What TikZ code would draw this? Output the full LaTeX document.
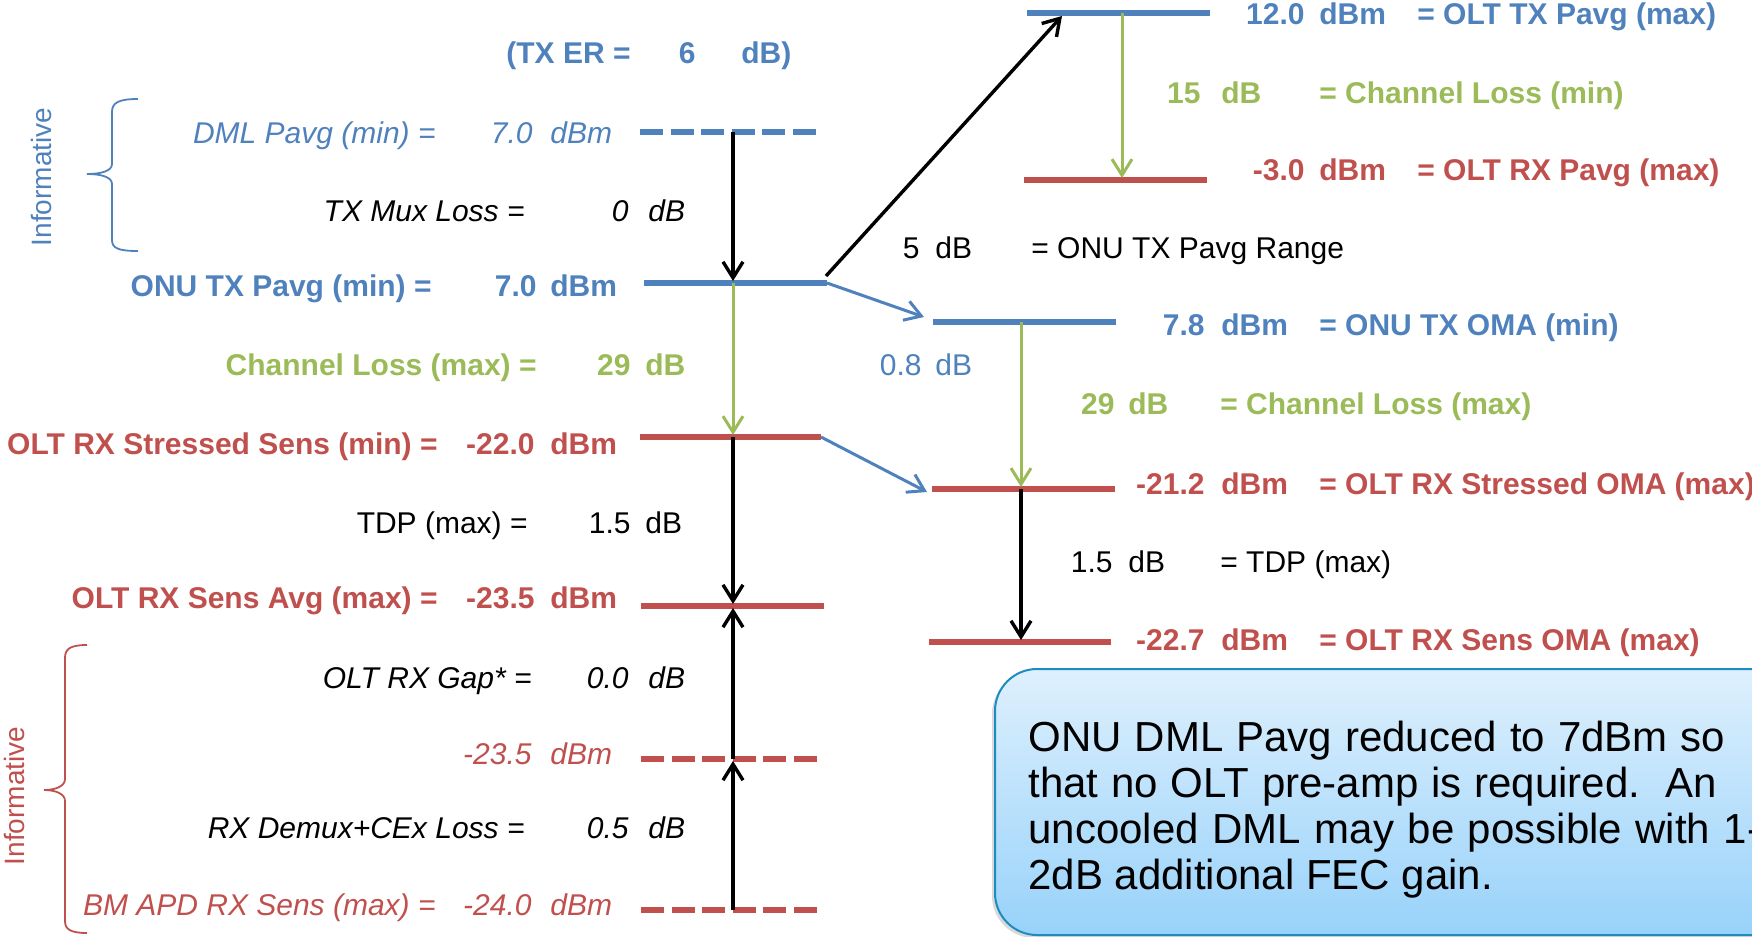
\documentclass[tikz,border=0pt]{standalone}
\usepackage{fontspec}
\setmainfont{Liberation Sans}
\usetikzlibrary{arrows.meta,shadows}

\definecolor{lvblue}{RGB}{79,129,189}
\definecolor{lvred}{RGB}{192,80,77}
\definecolor{lvgreen}{RGB}{155,187,89}
\definecolor{notetop}{RGB}{222,240,253}
\definecolor{notebot}{RGB}{152,210,250}
\definecolor{noteedge}{RGB}{30,140,190}

\tikzset{
  fs/.style={font=\fontsize{15pt}{18pt}\selectfont},
  fb/.style={font=\fontsize{15pt}{18pt}\selectfont\bfseries},
  fi/.style={font=\fontsize{15pt}{18pt}\selectfont\itshape},
  lab/.style={inner sep=0pt, anchor=base east},
  unit/.style={inner sep=0pt, anchor=base west},
  level/.style={line width=3.4pt},
  dashlevel/.style={line width=3.4pt, dash pattern=on 11.5pt off 3.75pt},
  barb/.style={-{Straight Barb[length=8pt,width=10pt]}},
  blk/.style={barb, line width=1.7pt, black, shorten >=1pt},
  grn/.style={barb, line width=1.5pt, lvgreen, shorten >=1pt},
  blu/.style={barb, line width=1.5pt, lvblue},
  brace/.style={line width=0.9pt},
  notebox/.style={draw=noteedge, line width=1pt, rounded corners=21pt,
    top color=notetop, bottom color=notebot,
    drop shadow={shadow xshift=-1.5pt, shadow yshift=-1.5pt, opacity=0.3},
    inner sep=0pt, anchor=north west},
  notetext/.style={inner sep=0pt, anchor=base west, font=\fontsize{21pt}{25pt}\selectfont},
  informative/.style={inner sep=0pt, rotate=90, font=\fontsize{14pt}{16pt}\selectfont},
}

\begin{document}
\begin{tikzpicture}[x=0.5pt, y=-0.5pt]
\useasboundingbox (0,0) rectangle (1752,937);

% ---------- note box ----------
\node[notebox, minimum width=420pt, minimum height=133pt] (note) at (994,668) {};
\node[notetext] (n1) at (1028,751) {\makebox[348.5pt][s]{ONU DML Pavg reduced to 7dBm so}};
\node[notetext] (n2) at (1028,797) {\makebox[344.5pt][s]{that no OLT pre-amp is required.\ \ An}};
\node[notetext] (n3) at (1028,843) {\makebox[366.5pt][s]{uncooled DML may be possible with 1-}};
\node[notetext] (n4) at (1028,889) {2dB additional FEC gain.};

% ---------- level coordinates, left column ----------
\coordinate (dml-w) at (640,132); \coordinate (dml-e) at (821,132); \coordinate (dml) at (733,132);
\coordinate (onu-w) at (644,283); \coordinate (onu-e) at (827,283); \coordinate (onu) at (733,283);
\coordinate (str-w) at (640,437); \coordinate (str-e) at (821,437); \coordinate (str) at (733,437);
\coordinate (avg-w) at (641,606); \coordinate (avg-e) at (824,606); \coordinate (avg) at (733,606);
\coordinate (gap-w) at (641,759); \coordinate (gap-e) at (821,759); \coordinate (gap) at (733,759);
\coordinate (apd-w) at (641,910); \coordinate (apd-e) at (821,910); \coordinate (apd) at (733,910);

% ---------- level coordinates, right column ----------
\coordinate (otx-w) at (1027,13);  \coordinate (otx-e) at (1210,13);  \coordinate (otx) at (1122,13);
\coordinate (orx-w) at (1024,180); \coordinate (orx-e) at (1207,180); \coordinate (orx) at (1122,180);
\coordinate (oma-w) at (933,322);  \coordinate (oma-e) at (1116,322); \coordinate (oma) at (1021,322);
\coordinate (soma-w) at (932,489); \coordinate (soma-e) at (1115,489); \coordinate (soma) at (1021,489);
\coordinate (sens-w) at (929,642); \coordinate (sens-e) at (1111,642); \coordinate (sens) at (1021,642);

% ---------- level lines ----------
\draw[dashlevel, lvblue] (dml-w) -- (dml-e);
\draw[level, lvblue] (onu-w) -- (onu-e);
\draw[level, lvred] (str-w) -- (str-e);
\draw[level, lvred] (avg-w) -- (avg-e);
\draw[dashlevel, lvred] (gap-w) -- (gap-e);
\draw[dashlevel, lvred] (apd-w) -- (apd-e);
\draw[level, lvblue] (otx-w) -- (otx-e);
\draw[level, lvred] (orx-w) -- (orx-e);
\draw[level, lvblue] (oma-w) -- (oma-e);
\draw[level, lvred] (soma-w) -- (soma-e);
\draw[level, lvred] (sens-w) -- (sens-e);

% ---------- vertical budget arrows ----------
\draw[blk] (dml) -- (onu);
\draw[grn] (onu) -- (str);
\draw[blk] (str) -- (avg);
\draw[blk] (gap) -- (avg);
\draw[blk] (apd) -- (gap);
\draw[grn] (otx) -- (orx);
\draw[grn] (oma) -- (soma);
\draw[blk] (soma) -- (sens);

% ---------- cross-over arrows ----------
\coordinate (jump-s) at (826,276);
\coordinate (jump-t) at (1062,16);
\draw[blk, shorten >=0pt] (jump-s) -- (jump-t);
\coordinate (omaarr-s) at (827,283);
\coordinate (omaarr-t) at (924,317);
\draw[blu] (omaarr-s) -- (omaarr-t);
\coordinate (somaarr-t) at (927,492);
\draw[blu] (str-e) -- (somaarr-t);

% ---------- braces ----------
\draw[brace, lvblue] (138,99) .. controls (118,99) and (112,103) .. (112,112)
  -- (112,164) .. controls (112,171) and (101,174) .. (87,174)
  .. controls (101,174) and (112,177) .. (112,184)
  -- (112,240) .. controls (112,248) and (118,251) .. (138,251);
\node[informative, lvblue] (inf1) at (41,177) {Informative};

\draw[brace, lvred] (87,645) .. controls (70,645) and (65,649) .. (65,658)
  -- (65,779) .. controls (65,786) and (56,790) .. (44,790)
  .. controls (56,790) and (65,794) .. (65,801)
  -- (65,921) .. controls (65,929) and (70,933) .. (87,933);
\node[informative, lvred] (inf2) at (14,796) {Informative};

% ---------- left column labels ----------
\node[lab, fb, lvblue] (er1) at (631,63) {(TX ER =};
\node[lab, fb, lvblue] (er2) at (696,63) {6};
\node[unit, fb, lvblue] (er3) at (741,63) {dB)};

\node[lab, fi, lvblue] (l1a) at (436,143) {DML Pavg (min) =};
\node[lab, fi, lvblue] (l1b) at (533,143) {7.0};
\node[unit, fi, lvblue] (l1c) at (550,143) {dBm};

\node[lab, fi] (l2a) at (525,221) {TX Mux Loss =};
\node[lab, fi] (l2b) at (629,221) {0};
\node[unit, fi] (l2c) at (648,221) {dB};

\node[lab, fb, lvblue] (l3a) at (432,296) {ONU TX Pavg (min) =};
\node[lab, fb, lvblue] (l3b) at (537,296) {7.0};
\node[unit, fb, lvblue] (l3c) at (550,296) {dBm};

\node[lab, fb, lvgreen] (l4a) at (537,375) {Channel Loss (max) =};
\node[lab, fb, lvgreen] (l4b) at (631,375) {29};
\node[unit, fb, lvgreen] (l4c) at (645,375) {dB};

\node[lab, fb, lvred] (l5a) at (438,454) {OLT RX Stressed Sens (min) =};
\node[lab, fb, lvred] (l5b) at (535,454) {-22.0};
\node[unit, fb, lvred] (l5c) at (550,454) {dBm};

\node[lab, fs] (l6a) at (528,533) {TDP (max) =};
\node[lab, fs] (l6b) at (631,533) {1.5};
\node[unit, fs] (l6c) at (645,533) {dB};

\node[lab, fb, lvred] (l7a) at (438,608) {OLT RX Sens Avg (max) =};
\node[lab, fb, lvred] (l7b) at (535,608) {-23.5};
\node[unit, fb, lvred] (l7c) at (550,608) {dBm};

\node[lab, fi] (l8a) at (532,688) {OLT RX Gap* =};
\node[lab, fi] (l8b) at (629,688) {0.0};
\node[unit, fi] (l8c) at (648,688) {dB};

\node[lab, fi, lvred] (l9b) at (532,764) {-23.5};
\node[unit, fi, lvred] (l9c) at (550,764) {dBm};

\node[lab, fi] (l10a) at (525,838) {RX Demux+CEx Loss =};
\node[lab, fi] (l10b) at (629,838) {0.5};
\node[unit, fi] (l10c) at (648,838) {dB};

\node[lab, fi, lvred] (l11a) at (436,915) {BM APD RX Sens (max) =};
\node[lab, fi, lvred] (l11b) at (532,915) {-24.0};
\node[unit, fi, lvred] (l11c) at (550,915) {dBm};

% ---------- right column labels ----------
\node[lab, fb, lvblue] (r1b) at (1305,25) {12.0};
\node[unit, fb, lvblue] (r1c) at (1319,25) {dBm};
\node[unit, fb, lvblue] (r1d) at (1417,25) {= OLT TX Pavg (max)};

\node[lab, fb, lvgreen] (r2b) at (1201,103) {15};
\node[unit, fb, lvgreen] (r2c) at (1221,103) {dB};
\node[unit, fb, lvgreen] (r2d) at (1319,103) {= Channel Loss (min)};

\node[lab, fb, lvred] (r3b) at (1305,180) {-3.0};
\node[unit, fb, lvred] (r3c) at (1319,180) {dBm};
\node[unit, fb, lvred] (r3d) at (1417,180) {= OLT RX Pavg (max)};

\node[lab, fs] (r4b) at (920,258) {5};
\node[unit, fs] (r4c) at (935,258) {dB};
\node[unit, fs] (r4d) at (1031,258) {= ONU TX Pavg Range};

\node[lab, fb, lvblue] (r5b) at (1205,335) {7.8};
\node[unit, fb, lvblue] (r5c) at (1221,335) {dBm};
\node[unit, fb, lvblue] (r5d) at (1319,335) {= ONU TX OMA (min)};

\node[lab, fs, lvblue] (r6b) at (922,375) {0.8};
\node[unit, fs, lvblue] (r6c) at (935,375) {dB};

\node[lab, fb, lvgreen] (r7b) at (1115,414) {29};
\node[unit, fb, lvgreen] (r7c) at (1128,414) {dB};
\node[unit, fb, lvgreen] (r7d) at (1220,414) {= Channel Loss (max)};

\node[lab, fb, lvred] (r8b) at (1205,494) {-21.2};
\node[unit, fb, lvred] (r8c) at (1221,494) {dBm};
\node[unit, fb, lvred] (r8d) at (1319,494) {= OLT RX Stressed OMA (max)};

\node[lab, fs] (r9b) at (1113,572) {1.5};
\node[unit, fs] (r9c) at (1128,572) {dB};
\node[unit, fs] (r9d) at (1220,572) {= TDP (max)};

\node[lab, fb, lvred] (r10b) at (1205,650) {-22.7};
\node[unit, fb, lvred] (r10c) at (1221,650) {dBm};
\node[unit, fb, lvred] (r10d) at (1319,650) {= OLT RX Sens OMA (max)};

\end{tikzpicture}
\end{document}
